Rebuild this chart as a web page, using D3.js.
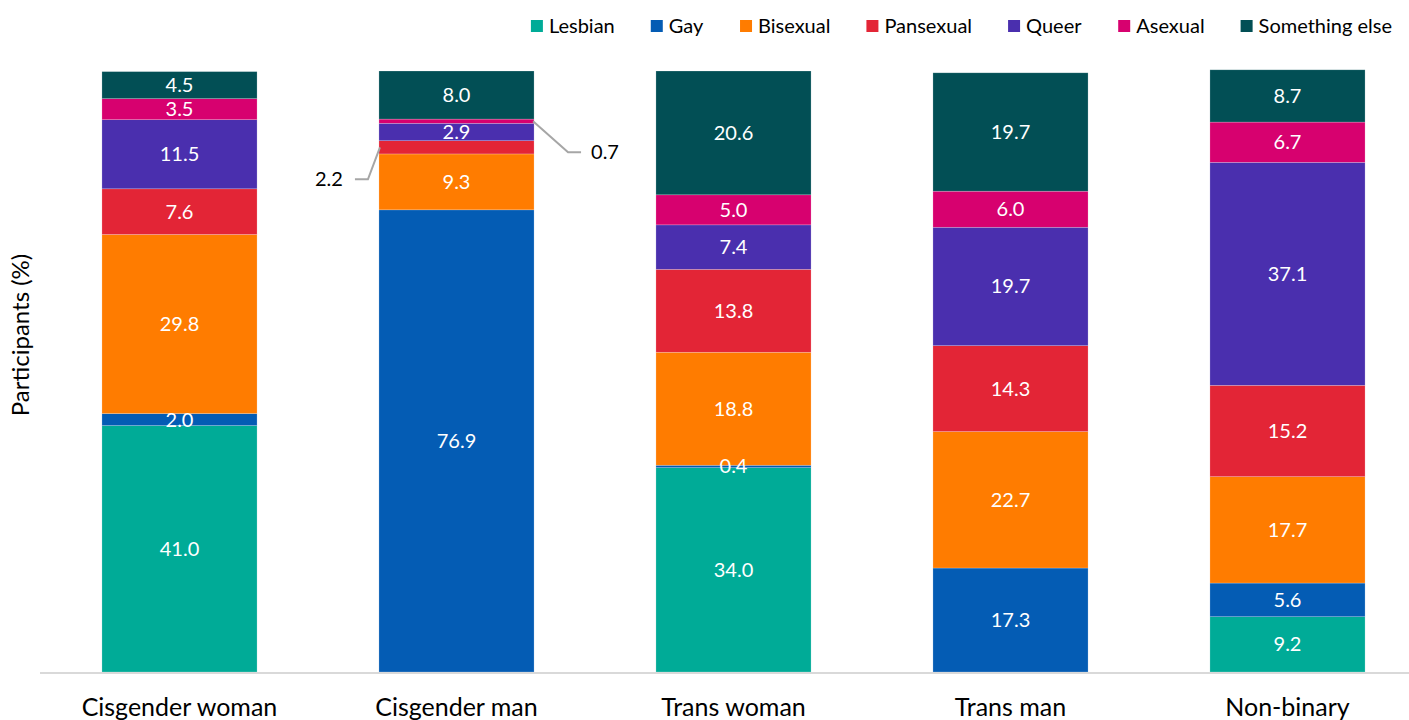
<!DOCTYPE html>
<html>
<head>
<meta charset="utf-8">
<script src="https://cdn.jsdelivr.net/npm/d3@7"></script>
<style>
  body { margin: 0; background: #fff; }
  svg text { font-family: Lato, "Open Sans", sans-serif; }
</style>
</head>
<body>
<div id="chart"></div>
<script>
var groups = ['Cisgender woman', 'Cisgender man', 'Trans woman', 'Trans man', 'Non-binary'];
var orientations = ['Lesbian', 'Gay', 'Bisexual', 'Pansexual', 'Queer', 'Asexual', 'Something else'];
var colors = ['#00ab97', '#045cb4', '#ff7c00', '#e32536', '#4a2fae', '#d7016f', '#024f55'];

// percent of participants, per orientation, in group order
var lesbian   = [41.0, 0,    34.0, 0,    9.2];
var gay       = [2.0,  76.9, 0.4,  17.3, 5.6];
var bisexual  = [29.8, 9.3,  18.8, 22.7, 17.7];
var pansexual = [7.6,  2.2,  13.8, 14.3, 15.2];
var queer     = [11.5, 2.9,  7.4,  19.7, 37.1];
var asexual   = [3.5,  0.7,  5.0,  6.0,  6.7];
var other     = [4.5,  8.0,  20.6, 19.7, 8.7];

var series = [lesbian, gay, bisexual, pansexual, queer, asexual, other];

var width = 1409, height = 720;

var svg = d3.select('#chart').append('svg')
    .attr('width', width)
    .attr('height', height);

var rows = groups.map(function (g, i) {
    var r = { group: g };
    orientations.forEach(function (o, k) { r[o] = series[k][i]; });
    return r;
});

var stacked = d3.stack().keys(orientations)(rows);

var x = d3.scaleBand()
    .domain(groups)
    .range([41, 1426])
    .paddingInner(0.44)
    .paddingOuter(0.22);

var y = d3.scaleLinear()
    .domain([0, 100])
    .range([672, 71]);

var color = d3.scaleOrdinal().domain(orientations).range(colors);

var layers = svg.append('g').selectAll('g')
    .data(stacked)
    .enter().append('g')
    .attr('fill', function (d) { return color(d.key); });

layers.selectAll('rect')
    .data(function (d) { return d; })
    .enter().append('rect')
    .attr('x', function (d) { return x(d.data.group); })
    .attr('width', x.bandwidth())
    .attr('y', function (d) { return y(d[1]); })
    .attr('height', function (d) { return y(d[0]) - y(d[1]); })
    .attr('stroke', '#ffffff')
    .attr('stroke-opacity', 0.35)
    .attr('stroke-width', 0.6);

// labels; tiny cis man slices get callouts instead
var callouts = { 'Cisgender man|Pansexual': 'left', 'Cisgender man|Asexual': 'right' };

stacked.forEach(function (layer) {
    layer.forEach(function (d) {
        var v = d[1] - d[0];
        if (!v) return;
        var key = d.data.group + '|' + layer.key;
        var label = d3.format('.1f')(v);
        var cy = (y(d[0]) + y(d[1])) / 2;
        var bx = x(d.data.group);
        if (callouts[key] === 'left') {
            svg.append('polyline')
                .attr('points', [[bx + 1, cy], [bx - 11, cy + 32], [bx - 24, cy + 32]].join(' '))
                .attr('fill', 'none').attr('stroke', '#a6a6a6').attr('stroke-width', 2);
            svg.append('text')
                .attr('x', bx - 36).attr('y', cy + 32).attr('dy', '0.35em')
                .attr('text-anchor', 'end')
                .style('font-size', '20px').attr('fill', '#000')
                .text(label);
        } else if (callouts[key] === 'right') {
            var rx = bx + x.bandwidth();
            svg.append('polyline')
                .attr('points', [[rx - 1, cy], [rx + 34, cy + 31], [rx + 47, cy + 31]].join(' '))
                .attr('fill', 'none').attr('stroke', '#a6a6a6').attr('stroke-width', 2);
            svg.append('text')
                .attr('x', rx + 57).attr('y', cy + 31).attr('dy', '0.35em')
                .style('font-size', '20px').attr('fill', '#000')
                .text(label);
        } else {
            svg.append('text')
                .attr('x', bx + x.bandwidth() / 2).attr('y', cy).attr('dy', '0.35em')
                .attr('text-anchor', 'middle')
                .style('font-size', '20px').attr('fill', '#fff')
                .text(label);
        }
    });
});

// baseline
svg.append('line')
    .attr('x1', 40).attr('x2', width)
    .attr('y1', y(0) + 1).attr('y2', y(0) + 1)
    .attr('stroke', '#d9d9d9').attr('stroke-width', 2);

// category labels
svg.append('g').selectAll('text')
    .data(groups)
    .enter().append('text')
    .attr('x', function (d) { return x(d) + x.bandwidth() / 2; })
    .attr('y', 716)
    .attr('text-anchor', 'middle')
    .style('font-size', '25px')
    .attr('fill', '#000')
    .text(function (d) { return d; });

// y axis title
svg.append('text')
    .attr('transform', 'translate(29,335) rotate(-90)')
    .attr('text-anchor', 'middle')
    .style('font-size', '24px')
    .attr('fill', '#000')
    .text('Participants (%)');

// legend, laid out right to left from its right edge
var legend = svg.append('g');
var items = legend.selectAll('g')
    .data(orientations)
    .enter().append('g');

items.append('rect')
    .attr('width', 12).attr('height', 12)
    .attr('y', 20)
    .attr('fill', function (d) { return color(d); });

items.append('text')
    .attr('x', 18).attr('y', 26).attr('dy', '0.35em')
    .style('font-size', '20px')
    .attr('fill', '#000')
    .text(function (d) { return d; });

var widths = [];
items.each(function () { widths.push(this.getBBox().width); });
var total = d3.sum(widths) + 36 * (widths.length - 1);
var lx = 1392 - total;
items.attr('transform', function (d, i) {
    var t = 'translate(' + lx + ',0)';
    lx += widths[i] + 36;
    return t;
});
</script>
</body>
</html>
